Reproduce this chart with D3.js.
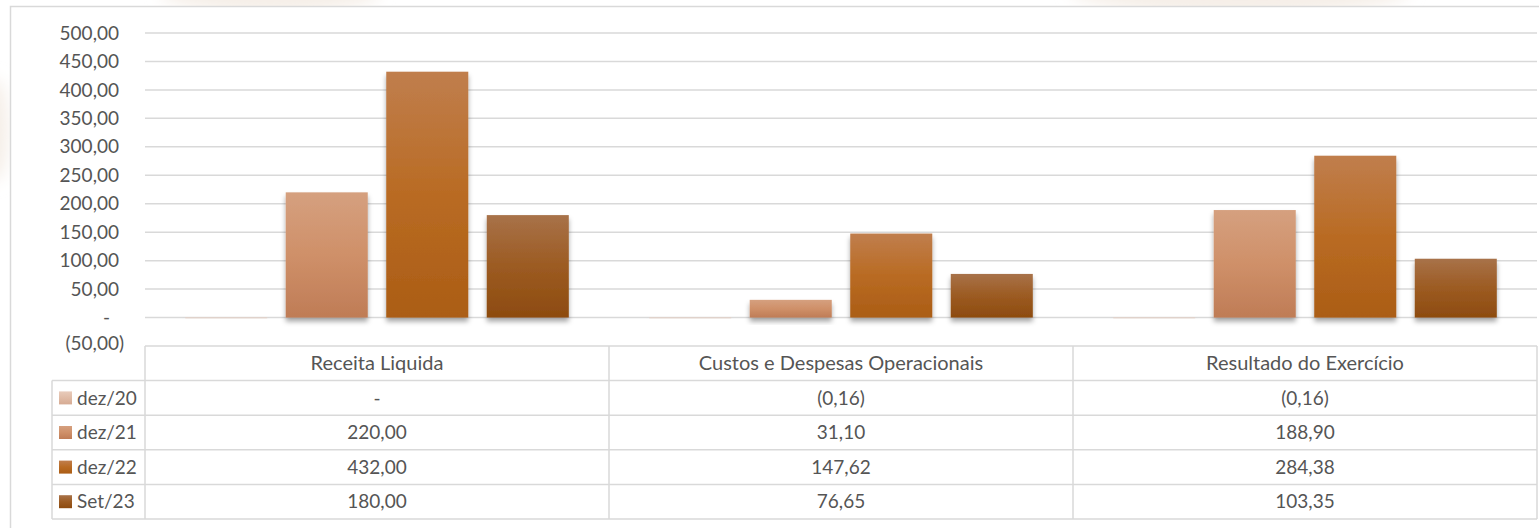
<!DOCTYPE html>
<html>
<head>
<meta charset="utf-8">
<script src="https://cdn.jsdelivr.net/npm/d3@7"></script>
<style>
  html, body { margin: 0; padding: 0; background: #fff; }
  svg { display: block; }
  text { font-family: Lato, "Open Sans", sans-serif; fill: #555; }
</style>
</head>
<body>
<div id="chart"></div>
<script>
// values
var categories = ['Receita Liquida', 'Custos e Despesas Operacionais', 'Resultado do Exercício'];
var seriesNames = ['dez/20', 'dez/21', 'dez/22', 'Set/23'];
var dez20 = [0, -0.16, -0.16];
var dez21 = [220.00, 31.10, 188.90];
var dez22 = [432.00, 147.62, 284.38];
var set23 = [180.00, 76.65, 103.35];
var yTicks = [-50, 0, 50, 100, 150, 200, 250, 300, 350, 400, 450, 500];

// gradient stops per series (top, middle, bottom)
var seriesColors = [
  ['#e8cbbb', '#e0bba6', '#d6ab93'],
  ['#d5a07f', '#cf9069', '#bf7c56'],
  ['#c07e4d', '#b96b23', '#ab5d15'],
  ['#a87249', '#9c5b22', '#8d4b0f']
];

var values = [dez20, dez21, dez22, set23];

(function() {
  var width = 1539, height = 528,
    plotLeft = 145, plotRight = 1537,
    plotTop = 33, plotBottom = 346,
    rowH = 34.6,
    legendLeft = 52,
    gridColor = '#d9d9d9';

  var locale = d3.formatLocale({ decimal: ',', thousands: '.', grouping: [3], currency: ['', ''] });
  var fmt2 = locale.format(',.2f');
  var fmt = function(v) {
    if (v === 0) return '-';
    return v < 0 ? '(' + fmt2(-v) + ')' : fmt2(v);
  };

  var svg = d3.select('#chart').append('svg')
    .attr('width', width)
    .attr('height', height);

  var defs = svg.append('defs');

  var blur = defs.append('filter').attr('id', 'wm').attr('x', '-50%').attr('y', '-50%').attr('width', '200%').attr('height', '200%');
  blur.append('feGaussianBlur').attr('stdDeviation', 8);

  var shadow = defs.append('filter').attr('id', 'shadow')
    .attr('x', '-20%').attr('y', '-20%').attr('width', '140%').attr('height', '160%');
  shadow.append('feDropShadow')
    .attr('dx', 0).attr('dy', 4)
    .attr('stdDeviation', 2.5)
    .attr('flood-color', '#000')
    .attr('flood-opacity', 0.35);

  seriesNames.forEach(function(name, i) {
    var g = defs.append('linearGradient')
      .attr('id', 'grad' + i)
      .attr('x1', 0).attr('y1', 0).attr('x2', 0).attr('y2', 1);
    g.append('stop').attr('offset', '0%').attr('stop-color', seriesColors[i][0]);
    g.append('stop').attr('offset', '50%').attr('stop-color', seriesColors[i][1]);
    g.append('stop').attr('offset', '100%').attr('stop-color', seriesColors[i][2]);
  });

  // faint watermark peeking from behind the chart box
  var wm = svg.append('g').attr('filter', 'url(#wm)').attr('fill', '#f5eee7');
  wm.append('ellipse').attr('cx', 270).attr('cy', -8).attr('rx', 110).attr('ry', 20);
  wm.append('ellipse').attr('cx', 1240).attr('cy', -10).attr('rx', 170).attr('ry', 24);
  wm.append('ellipse').attr('cx', -6).attr('cy', 130).attr('rx', 14).attr('ry', 52);

  // chart box
  svg.append('rect')
    .attr('x', 10.5).attr('y', 6.5)
    .attr('width', 1540).attr('height', 530)
    .attr('fill', '#fff')
    .attr('stroke', gridColor)
    .attr('stroke-width', 1.5);

  var x0 = d3.scaleBand()
    .domain(categories)
    .range([plotLeft, plotRight]);

  var x1 = d3.scaleBand()
    .domain(seriesNames)
    .range([0, x0.bandwidth()])
    .paddingInner(0.184)
    .paddingOuter(0.4);

  var y = d3.scaleLinear()
    .domain([-50, 500])
    .range([plotBottom, plotTop]);

  // gridlines (the -50 line is the top of the data table)
  svg.append('g')
    .selectAll('line')
    .data(yTicks.filter(function(t) { return t > -50; }))
    .join('line')
    .attr('x1', plotLeft).attr('x2', plotRight)
    .attr('y1', function(d) { return y(d); })
    .attr('y2', function(d) { return y(d); })
    .attr('stroke', gridColor)
    .attr('stroke-width', 1.5);

  // y axis labels
  svg.append('g')
    .selectAll('text')
    .data(yTicks)
    .join('text')
    .attr('x', function(d) { return d < 0 ? 124 : (d === 0 ? 110 : 119); })
    .attr('y', function(d) { return y(d) - (d < 0 ? 3 : 0); })
    .attr('dy', '0.35em')
    .attr('text-anchor', 'end')
    .attr('font-size', 19)
    .text(fmt);

  // bars
  var groups = svg.append('g')
    .selectAll('g')
    .data(categories)
    .join('g')
    .attr('transform', function(d) { return 'translate(' + x0(d) + ',0)'; });

  groups.selectAll('rect')
    .data(function(cat, ci) {
      return seriesNames.map(function(s, si) { return { s: s, i: si, v: values[si][ci] }; });
    })
    .join('rect')
    .attr('x', function(d) { return x1(d.s); })
    .attr('width', x1.bandwidth())
    .attr('y', function(d) { return Math.min(y(d.v), y(0)); })
    .attr('height', function(d) { return Math.max(Math.abs(y(d.v) - y(0)), 0.6); })
    .attr('fill', function(d) { return 'url(#grad' + d.i + ')'; })
    .attr('filter', 'url(#shadow)');

  // data table
  var table = svg.append('g').attr('stroke', gridColor).attr('stroke-width', 1.5);
  var tableTop = plotBottom;
  var tableBottom = tableTop + rowH * (seriesNames.length + 1);

  // horizontal lines
  table.append('line')
    .attr('x1', plotLeft).attr('x2', plotRight)
    .attr('y1', tableTop).attr('y2', tableTop);
  d3.range(1, seriesNames.length + 2).forEach(function(r) {
    table.append('line')
      .attr('x1', legendLeft).attr('x2', plotRight)
      .attr('y1', tableTop + r * rowH).attr('y2', tableTop + r * rowH);
  });
  // vertical lines
  table.append('line')
    .attr('x1', legendLeft).attr('x2', legendLeft)
    .attr('y1', tableTop + rowH).attr('y2', tableBottom);
  categories.forEach(function(c) {
    table.append('line')
      .attr('x1', x0(c)).attr('x2', x0(c))
      .attr('y1', tableTop).attr('y2', tableBottom);
  });
  table.append('line')
    .attr('x1', plotRight).attr('x2', plotRight)
    .attr('y1', tableTop).attr('y2', tableBottom);

  // header
  svg.append('g')
    .selectAll('text')
    .data(categories)
    .join('text')
    .attr('x', function(d) { return x0(d) + x0.bandwidth() / 2; })
    .attr('y', tableTop + rowH / 2)
    .attr('dy', '0.35em')
    .attr('text-anchor', 'middle')
    .attr('font-size', 20)
    .text(function(d) { return d; });

  // legend rows
  var rows = svg.append('g')
    .selectAll('g')
    .data(seriesNames)
    .join('g')
    .attr('transform', function(d, i) { return 'translate(0,' + (tableTop + rowH * (i + 1)) + ')'; });

  rows.append('rect')
    .attr('x', 59).attr('y', rowH / 2 - 6.5)
    .attr('width', 13).attr('height', 13)
    .attr('fill', function(d, i) { return 'url(#grad' + i + ')'; });

  rows.append('text')
    .attr('x', 77)
    .attr('y', rowH / 2)
    .attr('dy', '0.35em')
    .attr('font-size', 19)
    .text(function(d) { return d; });

  rows.each(function(s, si) {
    d3.select(this).selectAll('text.val')
      .data(values[si])
      .join('text')
      .attr('class', 'val')
      .attr('x', function(d, ci) { return x0(categories[ci]) + x0.bandwidth() / 2; })
      .attr('y', rowH / 2)
      .attr('dy', '0.35em')
      .attr('text-anchor', 'middle')
      .attr('font-size', 19)
      .text(fmt);
  });
})();
</script>
</body>
</html>
